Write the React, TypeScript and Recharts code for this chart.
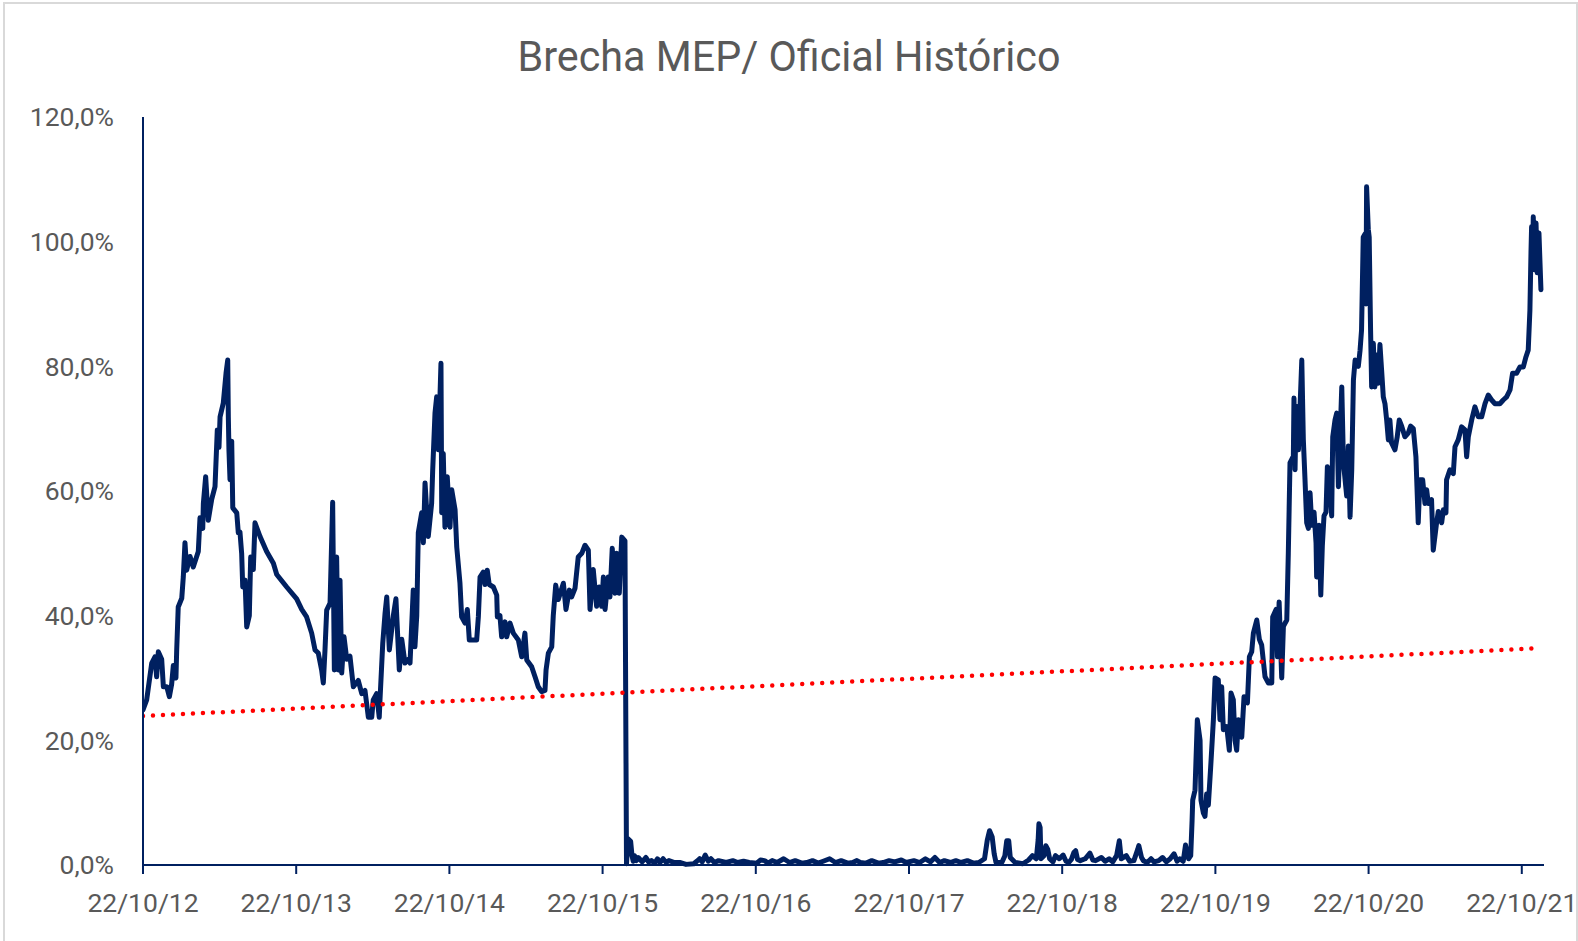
import React from "react";
import { LineChart, Line, XAxis, YAxis } from "recharts";

// t = years since 22/10/2012, value = brecha %
const tramoCepo2012: [number, number][] = [
  [0, 24.9], [0.024, 26.5], [0.057, 32.4], [0.078, 33.4], [0.089, 30.2], [0.1, 34.2],
  [0.122, 33], [0.133, 28.6], [0.155, 28.6], [0.172, 27], [0.187, 29], [0.198, 32],
  [0.215, 30], [0.22, 34.5], [0.23, 41.4], [0.253, 42.8], [0.263, 46.2], [0.274, 51.7],
  [0.285, 47.3], [0.307, 49.5], [0.328, 47.8], [0.361, 50.3], [0.372, 55.7], [0.39, 54],
  [0.394, 58], [0.409, 62.3], [0.426, 55.3], [0.448, 58.6], [0.47, 60.7], [0.485, 69.8],
  [0.496, 67], [0.503, 71.9], [0.524, 74.1], [0.542, 78.9], [0.553, 81], [0.557, 71.9],
  [0.561, 66.6], [0.568, 61.8], [0.579, 68], [0.586, 57.3], [0.612, 56.5], [0.622, 53.3],
  [0.633, 53.4], [0.644, 50], [0.651, 44.6], [0.666, 45.7], [0.677, 38.2], [0.694, 40],
  [0.703, 49.4], [0.72, 47.4], [0.731, 54.9], [0.764, 52.7], [0.807, 50.3], [0.851, 48.4],
  [0.873, 46.6], [0.938, 44.6], [1.003, 42.7], [1.036, 41], [1.068, 39.8], [1.101, 37.2],
  [1.123, 34.5], [1.144, 34], [1.166, 31.3], [1.177, 29.2], [1.188, 34.5], [1.199, 40.9],
  [1.221, 42], [1.238, 58.2], [1.249, 31.3], [1.264, 49.4], [1.275, 31.3], [1.286, 45.7],
  [1.297, 30.8], [1.312, 36.6], [1.33, 33], [1.351, 33.5], [1.373, 28.6], [1.405, 29.6],
  [1.428, 27.5], [1.449, 28], [1.471, 23.7], [1.493, 23.7], [1.503, 26.5], [1.525, 27.5],
  [1.542, 23.7], [1.547, 26.5], [1.565, 35.6], [1.58, 40.4], [1.591, 43], [1.608, 34.5],
  [1.634, 40], [1.651, 42.7], [1.673, 31.3], [1.689, 36.2], [1.71, 32.4], [1.732, 33],
  [1.743, 32.4], [1.764, 44.1], [1.775, 35], [1.787, 40], [1.797, 53.3], [1.819, 56.5],
  [1.83, 51.7], [1.841, 61.3], [1.862, 52.7], [1.884, 58], [1.891, 63.4], [1.906, 72.5],
  [1.917, 75.1], [1.928, 66.6], [1.939, 75.6], [1.945, 80.5], [1.95, 56.5], [1.96, 66],
  [1.971, 54.2], [1.986, 62.3], [2.004, 54.2], [2.015, 60.2], [2.037, 57], [2.048, 51],
  [2.069, 45.2], [2.08, 39.8], [2.102, 38.8], [2.117, 41], [2.13, 36.1], [2.178, 36.1],
  [2.189, 39.8], [2.2, 46.2], [2.221, 47], [2.232, 45], [2.247, 47.3], [2.26, 45],
  [2.287, 44.6], [2.309, 43.3], [2.313, 39.8], [2.33, 40], [2.341, 36.6], [2.363, 39],
  [2.374, 36.6], [2.396, 38.8], [2.417, 37.2], [2.45, 36.1], [2.472, 33.4], [2.493, 37.2],
  [2.505, 32.9], [2.537, 31.8], [2.559, 30.2], [2.58, 28.6], [2.602, 27.8], [2.624, 28],
  [2.631, 31.3], [2.646, 34], [2.668, 35], [2.678, 40], [2.694, 44.9], [2.711, 42.6],
  [2.744, 45.2], [2.761, 41], [2.783, 44.1], [2.798, 43], [2.82, 44.4], [2.841, 49.4],
  [2.864, 50], [2.885, 51.3], [2.907, 50.5], [2.918, 41], [2.939, 47.4], [2.961, 41.5],
  [2.978, 44.6], [2.994, 41.5], [3.005, 46.2], [3.016, 41], [3.037, 46.2], [3.048, 43],
  [3.063, 50.8], [3.081, 43.6], [3.092, 50], [3.109, 43.6], [3.125, 52.6], [3.146, 52],
];

const tramoSinCepo: [number, number][] = [
  [3.156, 0.2], [3.166, 4.2], [3.183, 3.8], [3.192, 1.5], [3.2, 0.6], [3.208, 1.5],
  [3.22, 0.7], [3.233, 1.2], [3.258, 0.5], [3.283, 1.2], [3.3, 0.5], [3.32, 0.7],
  [3.34, 0.3], [3.358, 1.0], [3.375, 0.4], [3.395, 1.0], [3.415, 0.4], [3.433, 0.7],
  [3.47, 0.4], [3.508, 0.4], [3.545, 0.1], [3.595, 0.2], [3.615, 0.6], [3.633, 1.0],
  [3.65, 0.5], [3.67, 1.6], [3.69, 0.6], [3.707, 1.0], [3.73, 0.4], [3.757, 0.7],
  [3.807, 0.4], [3.85, 0.7], [3.882, 0.4], [3.92, 0.6], [3.957, 0.4], [4.007, 0.3],
  [4.03, 0.8], [4.057, 0.7], [4.08, 0.3], [4.107, 0.7], [4.14, 0.4], [4.182, 1.0],
  [4.22, 0.4], [4.257, 0.7], [4.3, 0.3], [4.332, 0.4], [4.37, 0.7], [4.407, 0.3],
  [4.44, 0.6], [4.482, 1.0], [4.52, 0.4], [4.557, 0.7], [4.6, 0.3], [4.632, 0.4],
  [4.66, 0.7], [4.682, 0.4], [4.72, 0.3], [4.757, 0.7], [4.8, 0.3], [4.832, 0.4],
  [4.87, 0.7], [4.907, 0.5], [4.95, 0.8], [4.982, 0.4], [5.032, 0.7], [5.07, 0.4],
  [5.107, 1.0], [5.14, 0.5], [5.169, 1.2], [5.2, 0.4], [5.231, 0.7], [5.27, 0.4],
  [5.306, 0.7], [5.34, 0.4], [5.381, 0.7], [5.42, 0.3], [5.456, 0.4], [5.493, 1.0],
  [5.511, 4.0], [5.526, 5.5], [5.543, 4.5], [5.556, 1.8], [5.568, 0.4], [5.606, 0.4],
  [5.626, 1.5], [5.638, 3.9], [5.651, 3.9], [5.661, 1.2], [5.693, 0.4], [5.743, 0.2],
  [5.781, 0.8], [5.806, 1.5], [5.831, 1.0], [5.843, 4.0], [5.848, 6.6], [5.856, 6.0],
  [5.861, 1.0], [5.881, 1.5], [5.893, 3.1], [5.906, 2.5], [5.918, 1.0], [5.94, 0.5],
  [5.956, 1.5], [5.981, 1.0], [6.006, 1.6], [6.025, 0.6], [6.043, 0.4], [6.06, 0.9],
  [6.076, 2.0], [6.088, 2.3], [6.1, 0.9], [6.118, 0.7], [6.15, 1.0], [6.181, 1.9],
  [6.2, 0.8], [6.218, 0.7], [6.256, 1.2], [6.28, 0.6], [6.306, 1.0], [6.33, 0.5],
  [6.355, 1.5], [6.373, 3.9], [6.385, 1.0], [6.418, 1.5], [6.44, 0.6], [6.468, 0.7],
  [6.493, 2.5], [6.5, 3.1], [6.518, 1.2], [6.53, 0.7], [6.555, 0.4], [6.58, 1.0],
  [6.6, 0.5], [6.63, 0.7], [6.655, 1.2], [6.68, 0.5], [6.705, 1.0], [6.73, 1.8],
  [6.75, 0.6], [6.768, 1.0], [6.79, 0.6], [6.805, 3.2], [6.825, 1.0], [6.839, 1.5],
];

const tramoCepo2019: [number, number][] = [
  [6.848, 7.2], [6.852, 10.4], [6.867, 12], [6.882, 23.3], [6.9, 20], [6.906, 10.4],
  [6.922, 8.3], [6.932, 7.8], [6.943, 11.4], [6.954, 9.6], [6.969, 15.6], [6.987, 23.3],
  [6.998, 30], [7.019, 29.7], [7.03, 23.3], [7.041, 28.6], [7.052, 21.7], [7.074, 22.2],
  [7.091, 18.4], [7.102, 27.6], [7.117, 26.5], [7.128, 20], [7.139, 18.4], [7.15, 23.3],
  [7.172, 20.5], [7.187, 27], [7.209, 26], [7.222, 33.4], [7.237, 34.2], [7.248, 37.2],
  [7.27, 39.3], [7.287, 36.2], [7.302, 35.3], [7.324, 30.2], [7.346, 29.2], [7.368, 29.2],
  [7.374, 39.8], [7.396, 41], [7.405, 33.4], [7.416, 42.2], [7.433, 30], [7.444, 38.3],
  [7.466, 39.3], [7.476, 50], [7.487, 64.5], [7.509, 65.6], [7.513, 74.9], [7.52, 63.4],
  [7.527, 73.6], [7.542, 66.6], [7.564, 81], [7.574, 68.3], [7.585, 61.8], [7.596, 54.9],
  [7.607, 54], [7.618, 59.7], [7.629, 54.5], [7.644, 56.6], [7.657, 51.7], [7.661, 46.2],
  [7.677, 54.5], [7.688, 43.3], [7.698, 51.2], [7.709, 56], [7.722, 56.6], [7.731, 63.9],
  [7.748, 61.2], [7.759, 56], [7.766, 68.7], [7.781, 71.4], [7.792, 72.5], [7.803, 60.7],
  [7.814, 68.7], [7.825, 76.7], [7.836, 64.5], [7.857, 59.2], [7.868, 67.2], [7.879, 55.8],
  [7.89, 63.4], [7.901, 77.8], [7.912, 81], [7.933, 80], [7.944, 82.5], [7.954, 85.8],
  [7.965, 100.7], [7.976, 101.2], [7.983, 90], [7.987, 108.8], [7.998, 102], [8.004, 100.7],
  [8.013, 85.8], [8.02, 76.7], [8.031, 83.7], [8.041, 76.7], [8.052, 81.8], [8.063, 77.3],
  [8.074, 83.5], [8.085, 79.4], [8.096, 75.1], [8.107, 74], [8.118, 71.4], [8.129, 68.2],
  [8.139, 71.4], [8.15, 67.7], [8.172, 66.6], [8.187, 68.7], [8.2, 71.4], [8.216, 70.4],
  [8.237, 68.7], [8.259, 69.3], [8.274, 70.4], [8.292, 70], [8.309, 65.5], [8.324, 54.9],
  [8.335, 61.8], [8.353, 61.8], [8.368, 58], [8.379, 60.2], [8.39, 58], [8.411, 58.6],
  [8.422, 50.5], [8.444, 54.9], [8.455, 56.7], [8.477, 54.9], [8.488, 57], [8.505, 56.5],
  [8.509, 61.8], [8.531, 63.4], [8.553, 62.8], [8.564, 67.1], [8.585, 68.2], [8.607, 70.3],
  [8.629, 69.8], [8.64, 65.5], [8.651, 68.7], [8.673, 71.4], [8.694, 73.5], [8.716, 71.9],
  [8.738, 71.9], [8.76, 74], [8.781, 75.4], [8.803, 74.6], [8.825, 74], [8.857, 74],
  [8.879, 74.6], [8.901, 75.1], [8.923, 76.2], [8.94, 78.9], [8.966, 78.9], [8.988, 79.9],
  [9.01, 79.9], [9.027, 81.5], [9.042, 82.6], [9.053, 89], [9.06, 98.2], [9.064, 102.4],
  [9.071, 97], [9.075, 104], [9.082, 95.5], [9.093, 103], [9.101, 95], [9.112, 101.4],
  [9.125, 92.3],
];

// linear trend: start and end
const tendencia: [number, number][] = [[0, 23.9], [9.125, 34.8]];

const fechas = [
  "22/10/12", "22/10/13", "22/10/14", "22/10/15", "22/10/16",
  "22/10/17", "22/10/18", "22/10/19", "22/10/20", "22/10/21",
];
const yTicks = [0, 20, 40, 60, 80, 100, 120];

const NAVY = "#002060";
const GRAY = "#595959";

const rows: { t: number; brecha: number; tendencia?: number }[] = [
  ...tramoCepo2012,
  ...tramoSinCepo,
  ...tramoCepo2019,
].map(([t, v]) => ({ t, brecha: v }));
rows[0].tendencia = tendencia[0][1];
rows[rows.length - 1].tendencia = tendencia[1][1];

const fmtPct = (v: number) => `${v.toFixed(1).replace(".", ",")}%`;

export default function App() {
  return (
    <div
      style={{
        position: "absolute",
        left: 0,
        top: 0,
        width: 1578,
        height: 941,
        overflow: "hidden",
        background: "#fff",
      }}
    >
      <div
        style={{
          position: "absolute",
          left: 3,
          top: 2,
          width: 1575,
          height: 960,
          border: "2px solid #d9d9d9",
          boxSizing: "border-box",
        }}
      />
      <svg
        width={1578}
        height={100}
        style={{ position: "absolute", left: 0, top: 0 }}
      >
        <text
          x={789}
          y={71}
          textAnchor="middle"
          fontFamily="Roboto, sans-serif"
          fontSize={42}
          fill={GRAY}
          textLength={543}
          lengthAdjust="spacingAndGlyphs"
        >
          Brecha MEP/ Oficial Histórico
        </text>
      </svg>
      <div style={{ position: "absolute", left: 0, top: 0 }}>
        <LineChart
          width={1578}
          height={941}
          data={rows}
          margin={{ top: 117, right: 34, bottom: 16, left: 0 }}
        >
          <XAxis
            type="number"
            dataKey="t"
            domain={[0, 9.145]}
            ticks={[0, 1, 2, 3, 4, 5, 6, 7, 8, 9]}
            tickFormatter={(v: number) => fechas[Math.round(v)]}
            interval={0}
            height={60}
            allowDataOverflow
            axisLine={{ stroke: NAVY, strokeWidth: 2 }}
            tickLine={{ stroke: NAVY, strokeWidth: 2 }}
            tickSize={9}
            tickMargin={19}
            tick={{ fill: GRAY, fontSize: 26.5, fontFamily: "Roboto, sans-serif" }}
          />
          <YAxis
            type="number"
            domain={[0, 120]}
            ticks={yTicks}
            tickFormatter={fmtPct}
            width={143}
            interval={0}
            axisLine={{ stroke: NAVY, strokeWidth: 2 }}
            tickLine={false}
            tickSize={0}
            tickMargin={29}
            tick={{ fill: GRAY, fontSize: 26.5, fontFamily: "Roboto, sans-serif" }}
          />
          <Line
            type="linear"
            dataKey="brecha"
            stroke={NAVY}
            strokeWidth={5}
            strokeLinejoin="round"
            strokeLinecap="round"
            dot={false}
            activeDot={false}
            isAnimationActive={false}
          />
          <Line
            type="linear"
            dataKey="tendencia"
            stroke="#FF0000"
            strokeWidth={4.5}
            strokeDasharray="0 10"
            strokeLinecap="round"
            connectNulls
            dot={false}
            activeDot={false}
            isAnimationActive={false}
          />
        </LineChart>
      </div>
    </div>
  );
}
